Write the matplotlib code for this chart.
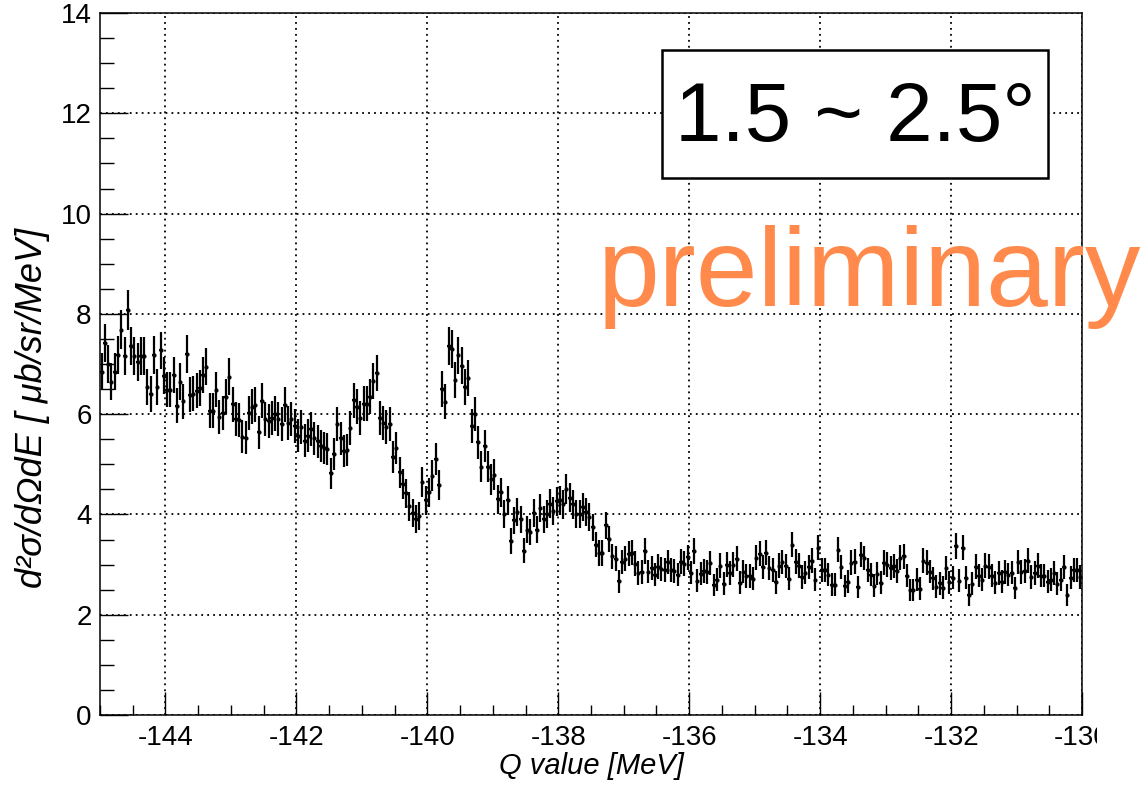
import numpy as np
import matplotlib
matplotlib.use("Agg")
import matplotlib.pyplot as plt
from matplotlib.ticker import MultipleLocator
from matplotlib.patches import Rectangle
from matplotlib.transforms import Bbox, TransformedBbox

plt.rcParams['font.family'] = ['Liberation Sans', 'DejaVu Sans']
plt.rcParams['axes.unicode_minus'] = False

# binning of the Q-value histogram
q_min, q_max = -145.0, -130.0
bin_width = 0.05

# d2sigma/dOmega dE per bin, 300 bins of 50 keV
dsigma = [
    6.85, 7.42, 7.00, 6.65, 6.85, 7.18, 7.68, 7.16, 8.07, 7.36,
    7.16, 7.04, 7.16, 7.16, 6.54, 6.40, 7.18, 6.54, 7.27, 6.77,
    6.49, 6.49, 6.78, 6.17, 6.65, 6.26, 7.20, 6.39, 6.41, 6.47,
    6.52, 6.78, 6.95, 6.07, 6.07, 6.49, 5.95, 6.02, 6.35, 6.75,
    6.20, 5.91, 5.89, 5.55, 5.53, 6.02, 6.15, 6.19, 5.64, 6.27,
    5.90, 5.87, 5.93, 6.01, 5.90, 5.81, 6.19, 5.83, 5.90, 5.77,
    5.57, 5.75, 5.47, 5.57, 5.70, 5.52, 5.46, 5.36, 5.32, 5.30,
    4.82, 5.21, 5.81, 5.52, 5.27, 5.29, 5.72, 6.28, 6.15, 5.93,
    6.21, 6.21, 6.35, 6.66, 6.82, 5.92, 5.83, 5.74, 5.81, 5.14,
    5.32, 4.84, 4.61, 4.42, 4.16, 4.03, 3.91, 3.96, 4.64, 4.28,
    4.44, 4.77, 5.11, 4.58, 6.50, 6.25, 7.36, 7.30, 6.68, 7.17,
    6.97, 6.54, 6.72, 5.77, 6.00, 5.44, 4.95, 5.36, 4.95, 4.70,
    4.79, 4.30, 4.44, 4.00, 4.28, 3.47, 3.88, 4.05, 3.90, 3.28,
    3.69, 3.65, 4.03, 3.69, 4.13, 3.90, 4.00, 4.21, 4.07, 4.26,
    4.28, 4.20, 4.51, 4.33, 4.20, 4.01, 4.00, 4.15, 4.05, 3.95,
    3.74, 3.40, 3.23, 3.23, 3.78, 3.51, 3.17, 3.12, 2.67, 3.05,
    3.12, 3.22, 3.24, 3.02, 2.83, 2.85, 3.27, 2.86, 2.94, 2.80,
    2.96, 2.92, 2.90, 3.05, 2.90, 2.88, 2.80, 3.06, 3.02, 3.15,
    2.84, 3.27, 2.68, 2.82, 2.87, 2.85, 3.03, 2.59, 2.70, 2.98,
    2.62, 3.00, 2.83, 3.00, 3.12, 2.64, 2.86, 2.77, 2.77, 2.72,
    3.14, 3.22, 2.95, 3.24, 2.93, 2.90, 2.65, 2.98, 3.05, 2.97,
    2.72, 3.40, 3.06, 2.98, 2.75, 2.84, 2.95, 3.08, 2.70, 3.34,
    2.90, 2.90, 2.80, 2.60, 2.60, 3.30, 2.95, 2.57, 2.66, 3.04,
    3.06, 2.55, 3.20, 3.13, 2.90, 2.80, 2.58, 2.82, 2.64, 3.04,
    3.00, 2.93, 2.97, 2.88, 3.14, 3.17, 2.78, 2.50, 2.50, 2.70,
    2.52, 3.08, 3.04, 2.86, 2.73, 2.56, 2.63, 2.54, 2.93, 2.65,
    2.74, 3.37, 2.68, 3.34, 2.74, 2.40, 2.62, 2.96, 2.78, 2.70,
    2.98, 2.96, 2.78, 2.64, 2.83, 2.66, 2.85, 2.80, 2.84, 2.53,
    3.05, 2.85, 2.88, 3.08, 2.75, 2.83, 2.98, 2.78, 2.78, 2.66,
    2.70, 2.83, 2.62, 2.70, 2.95, 2.39, 2.74, 2.90, 2.90, 2.75,
]
# statistical error ~ sqrt(N): relative scale
stat_scale = 0.14

angle_label = "1.5 ~ 2.5°"
stamp = "preliminary"
xlabel = "Q value [MeV]"
ylabel = "d²σ/dΩdE [ μb/sr/MeV]"

y = np.array(dsigma)
x = q_min + bin_width * (np.arange(len(y)) + 0.5)
yerr = stat_scale * np.sqrt(y)

W, H = 1148, 789
fig = plt.figure(figsize=(W / 100, H / 100), dpi=100)
ax = fig.add_axes([100 / W, 74 / H, 982 / W, 702 / H])

ax.errorbar(x, y, yerr=yerr, xerr=bin_width / 2, fmt='o', color='black',
            markersize=2.0, elinewidth=1.6, capsize=0, zorder=3)

ax.set_xlim(q_min, q_max)
ax.set_ylim(0, 14)
ax.xaxis.set_major_locator(MultipleLocator(2))
ax.xaxis.set_minor_locator(MultipleLocator(0.5))
ax.yaxis.set_major_locator(MultipleLocator(2))
ax.yaxis.set_minor_locator(MultipleLocator(0.5))

ax.tick_params(axis='x', which='major', direction='in', length=16.5, width=1.0,
               labelsize=20, pad=7, top=False)
ax.tick_params(axis='x', which='minor', direction='in', length=7, width=1.0, top=False)
ax.tick_params(axis='y', which='major', direction='in', length=20, width=1.0,
               labelsize=20, pad=6, right=False)
ax.tick_params(axis='y', which='minor', direction='in', length=10, width=1.0, right=False)
for s in ax.spines.values():
    s.set_linewidth(1.1)

ax.grid(which='major', color='black', linestyle=(0, (1, 2.3)), linewidth=1.3)
ax.set_axisbelow(True)

# ROOT pad clips the last x label
fig.canvas.draw()
clip = TransformedBbox(Bbox.from_extents(0, 0, 1097 / W, 1), fig.transFigure)
for lab in ax.get_xticklabels():
    lab.set_clip_box(clip)
    lab.set_clip_on(True)

fig.text(591 / W, 1 - 766 / H, xlabel, ha='center', va='center',
         fontsize=21, style='italic')
fig.text(33 / W, 1 - 408 / H, ylabel, ha='center', va='center',
         fontsize=26, style='italic', rotation=90)

# angle box
ax.add_patch(Rectangle(((662 - 100) / 982, (715 - 178) / 702), 386 / 982, 128 / 702,
                       transform=ax.transAxes, facecolor='white', edgecolor='black',
                       linewidth=1.8, zorder=5))
ax.text((855 - 100) / 982, (715 - 119) / 702, angle_label, transform=ax.transAxes,
        ha='center', va='center', fontsize=60, zorder=6)

fig.text(598 / W, 1 - 306 / H, stamp, ha='left', va='baseline',
         fontsize=80, color='#ff8a4c', zorder=10)

fig.savefig('out.png', dpi=100)
